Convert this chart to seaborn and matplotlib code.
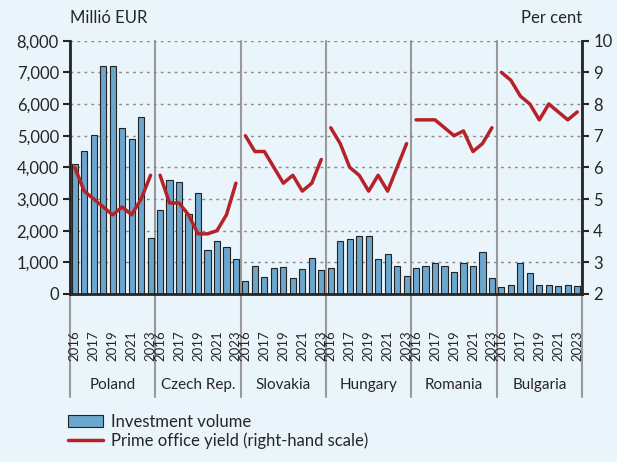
import numpy as np
import pandas as pd
import matplotlib.pyplot as plt
import seaborn as sns
from matplotlib.patches import Patch
from matplotlib.lines import Line2D
from matplotlib.ticker import FuncFormatter

# Adatok (leolvasva a diagramról)
countries = ["Poland", "Czech Rep.", "Slovakia", "Hungary", "Romania", "Bulgaria"]
tick_years = ["2016", "", "2017", "", "2019", "", "2021", "", "2023"]

volume_poland = [4100, 4530, 5030, 7200, 7200, 5240, 4900, 5600, 1780]
volume_czech = [2650, 3600, 3540, 2520, 3190, 1380, 1680, 1490, 1120]
volume_slovakia = [420, 880, 540, 820, 860, 500, 780, 1130, 760]
volume_hungary = [810, 1680, 1750, 1830, 1830, 1090, 1260, 900, 560]
volume_romania = [810, 900, 970, 900, 690, 990, 900, 1330, 490]
volume_bulgaria = [220, 270, 970, 670, 270, 290, 240, 290, 240]

yield_poland = [6.0, 5.25, 5.0, 4.75, 4.5, 4.75, 4.5, 5.0, 5.75]
yield_czech = [5.75, 4.875, 4.875, 4.5, 3.9, 3.9, 4.0, 4.5, 5.5]
yield_slovakia = [7.0, 6.5, 6.5, 6.0, 5.5, 5.75, 5.25, 5.5, 6.25]
yield_hungary = [7.25, 6.75, 6.0, 5.75, 5.25, 5.75, 5.25, 6.0, 6.75]
yield_romania = [7.5, 7.5, 7.5, 7.25, 7.0, 7.15, 6.5, 6.75, 7.25]
yield_bulgaria = [9.0, 8.75, 8.25, 8.0, 7.5, 8.0, 7.75, 7.5, 7.75]

volumes = [volume_poland, volume_czech, volume_slovakia,
           volume_hungary, volume_romania, volume_bulgaria]
yields = [yield_poland, yield_czech, yield_slovakia,
          yield_hungary, yield_romania, yield_bulgaria]

# Tábla összeállítása
rows = []
for c, vols, ylds in zip(countries, volumes, yields):
    for lab, v, y in zip(tick_years, vols, ylds):
        rows.append({"country": c, "year": lab, "volume": v, "yield": y})
df = pd.DataFrame(rows)
df["pos"] = np.arange(len(df))
n = len(tick_years)

bg = "#EAF4FB"
bar_color = "#6CA6CD"
line_color = "#B52228"

sns.set_style("white")
plt.rcParams["font.family"] = ["Lato", "DejaVu Sans"]

fig = plt.figure(figsize=(6.17, 4.62), dpi=100, facecolor=bg)
ax = fig.add_axes([70 / 617, 1 - 294 / 462, 512 / 617, 253.3 / 462])
ax.set_facecolor(bg)

sns.barplot(data=df, x="pos", y="volume", native_scale=True, color=bar_color,
            saturation=1, edgecolor="#222222", linewidth=0.8, width=0.65, ax=ax)

ax2 = ax.twinx()
sns.lineplot(data=df, x="pos", y="yield", units="country", estimator=None,
             color=line_color, lw=2.5, ax=ax2, legend=False)

ax.set_xlim(-0.5, len(df) - 0.5)
ax.set_ylim(0, 8000)
ax2.set_ylim(2, 10)
ax.set_yticks(range(0, 8001, 1000))
ax2.set_yticks(range(2, 11))
ax.yaxis.set_major_formatter(FuncFormatter(lambda v, p: f"{v:,.0f}"))
ax.grid(axis="y", ls=(0, (2, 3)), color="#888888", lw=1)
ax.set_axisbelow(True)
ax.set_xlabel("")
ax.set_ylabel("")
ax2.set_ylabel("")

# Tengelyek
for s in ["top", "right"]:
    ax.spines[s].set_visible(False)
for s in ["top", "left", "bottom"]:
    ax2.spines[s].set_visible(False)
ax.spines["left"].set_linewidth(2)
ax.spines["bottom"].set_linewidth(2)
ax2.spines["right"].set_linewidth(2)

ax.tick_params(axis="y", length=5, width=1.5, labelsize=12, pad=3)
ax2.tick_params(axis="y", length=5, width=1.5, labelsize=12, pad=3)

major_pos = [i for i, t in enumerate(tick_years * len(countries)) if t]
major_lab = [t for t in tick_years * len(countries) if t]
ax.set_xticks(major_pos)
ax.set_xticklabels(major_lab)
ax.set_xticks(np.arange(-0.5, len(df), 1), minor=True)
ax.tick_params(axis="x", which="major", length=0, pad=26, rotation=90, labelsize=9.5)
ax.tick_params(axis="x", which="minor", length=5, width=1.5, color="black")

# Országcsoportok elválasztói és nevei
xt = ax.get_xaxis_transform()
for k in range(len(countries) + 1):
    b = k * n - 0.5
    ax.plot([b, b], [1, -0.405], transform=xt, color="#999999", lw=1.5,
            clip_on=False, zorder=0.5)
for k, c in enumerate(countries):
    ax.text(k * n + (n - 1) / 2, -0.36, c, transform=xt, ha="center",
            va="center", fontsize=11)

fig.text(70 / 617, 1 - 18 / 462, "Millió EUR", ha="left", va="center", fontsize=12)
fig.text(582 / 617, 1 - 18 / 462, "Per cent", ha="right", va="center", fontsize=12)

handles = [Patch(facecolor=bar_color, edgecolor="#222222", lw=0.8, label="Investment volume"),
           Line2D([], [], color=line_color, lw=2.5, label="Prime office yield (right-hand scale)")]
fig.legend(handles=handles, loc="upper left", bbox_to_anchor=(68 / 617, 1 - 414 / 462),
           frameon=False, fontsize=12, handlelength=2.1, handletextpad=0.5,
           labelspacing=0.15, borderaxespad=0, borderpad=0)

fig.savefig("out.png", dpi=100, facecolor=bg)
